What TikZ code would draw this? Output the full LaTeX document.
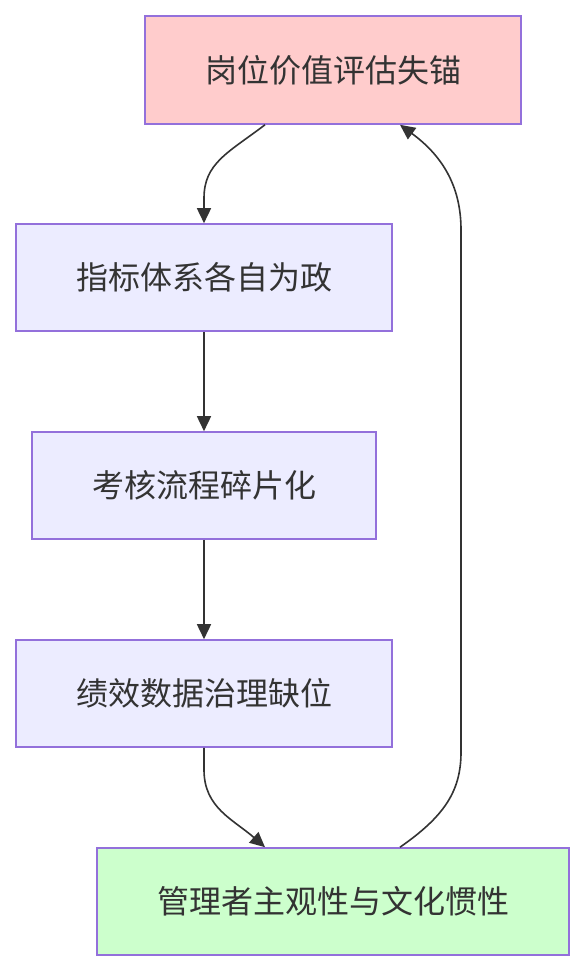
\documentclass[tikz,border=0pt]{standalone}
\usepackage{fontspec}
\setmainfont{Noto Sans CJK SC}
\usetikzlibrary{arrows.meta}
\definecolor{txt}{HTML}{333333}
\definecolor{bord}{HTML}{9370DB}
\definecolor{fillA}{HTML}{ECECFF}
\definecolor{fillR}{HTML}{FFCCCC}
\definecolor{fillG}{HTML}{CCFFCC}
\tikzset{
  box/.style={draw=bord, line width=1.6pt, fill=fillA, inner sep=0pt,
    text=txt, font=\fontsize{32}{38}\selectfont, minimum height=107pt},
  link/.style={draw=txt, line width=1.6pt, -{Triangle[length=15pt,width=14pt]}}
}
\begin{document}
\begin{tikzpicture}[x=1pt,y=-1pt]
\path[use as bounding box, fill=white] (0,0) rectangle (585,972);
\node[box, fill=fillR, minimum width=376pt, minimum height=108pt] (n1) at (333,70) {岗位价值评估失锚};
\node[box, minimum width=376pt] (n2) at (204,277.5) {指标体系各自为政};
\node[box, minimum width=344pt] (n3) at (204,485.5) {考核流程碎片化};
\node[box, minimum width=376pt] (n4) at (204,693.5) {绩效数据治理缺位};
\node[box, fill=fillG, minimum width=472pt] (n5) at (333,901.5) {管理者主观性与文化惯性};
\draw[link] ([xshift=-68pt]n1.south) .. controls ([xshift=-105pt,yshift=-28pt]n1.south) and ([yshift=60pt]n2.north) .. ([yshift=25pt]n2.north) -- (n2.north);
\draw[link] (n2.south) -- (n3.north);
\draw[link] (n3.south) -- (n4.north);
\draw[link] (n4.south) -- ([yshift=-22pt]n4.south) .. controls ([yshift=-60pt]n4.south) and ([xshift=-100pt,yshift=28pt]n5.north) .. ([xshift=-68pt]n5.north);
\draw[link] ([xshift=67pt]n5.north) .. controls ([xshift=110pt,yshift=30pt]n5.north) and ([xshift=128pt,yshift=55pt]n5.north) .. ([xshift=128pt,yshift=95pt]n5.north) -- ([xshift=128pt,yshift=-105pt]n1.south) .. controls ([xshift=128pt,yshift=-60pt]n1.south) and ([xshift=108pt,yshift=-30pt]n1.south) .. ([xshift=67pt]n1.south);
\end{tikzpicture}
\end{document}
